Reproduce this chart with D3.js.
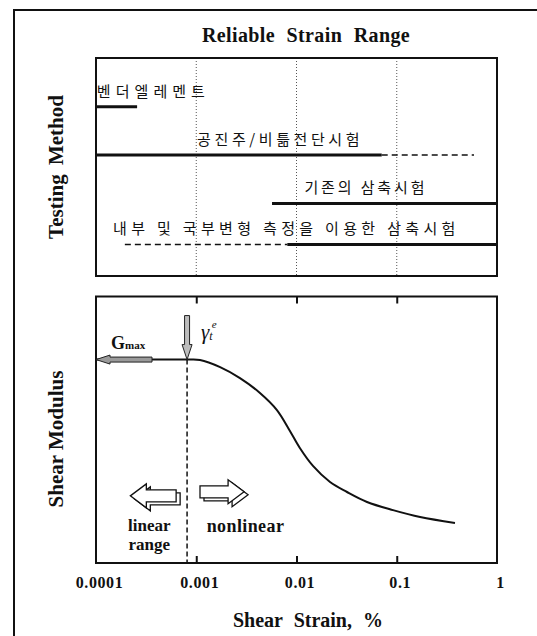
<!DOCTYPE html>
<html>
<head>
<meta charset="utf-8">
<script src="https://cdn.jsdelivr.net/npm/d3@7"></script>
<style>
  body { margin: 0; background: #fff; }
  svg text { fill: #111; }
  .kor { font-family: "Noto Sans CJK KR", sans-serif; font-weight: 400; font-size: 15px; }
</style>
</head>
<body>
<div id="chart"></div>
<script>
// tick labels of the strain axis
const tickValues = [0.0001, 0.001, 0.01, 0.1, 1];
const tickLabels = ["0.0001", "0.001", "0.01", "0.1", "1"];
const gridValues = [0.001, 0.01, 0.1];

// testing methods and their reliable strain ranges (%)
const methods = ["벤더엘레멘트", "공진주/비틂전단시험", "기존의 삼축시험", "내부 및 국부변형 측정을 이용한 삼축시험"];
const rowLevel = [2.24, 4.45, 6.67, 8.55];
const solidFrom = [0.0001, 0.0001, 0.0057, 0.0081];
const solidTo = [0.000257, 0.0708, 1, 1];
const dashFrom = [null, 0.0708, null, 0.000194];
const dashTo = [null, 0.59, null, 0.0081];
const labelFrom = [0.000102, 0.00102, 0.012, 0.000148];
const labelTo = [0.00122, 0.0425, 0.189, 0.384];

// shear modulus degradation curve (G / Gmax)
const strain = [0.0001, 0.0004, 0.00081, 0.00109, 0.00173, 0.00273, 0.00432, 0.00638, 0.0086, 0.0108, 0.0146, 0.0216, 0.0319, 0.0505, 0.0918, 0.171, 0.381];
const modulus = [1, 1, 1, 0.998, 0.963, 0.909, 0.836, 0.752, 0.649, 0.565, 0.477, 0.398, 0.349, 0.300, 0.260, 0.226, 0.197];
const gammaT = 0.00081;

const width = 537, height = 636;
const serif = "'Liberation Serif', 'Times New Roman', Times, serif";

const svg = d3.select("#chart")
  .append("svg")
  .attr("width", width)
  .attr("height", height);

// bold serif text helper
function label(xp, yp, txt, size) {
  return svg.append("text")
    .attr("x", xp).attr("y", yp)
    .style("font-family", serif)
    .style("font-weight", "bold")
    .style("font-size", size + "px")
    .text(txt);
}

// outer frame (only left and top edges visible)
svg.append("path")
  .attr("d", "M14,636 L14,10 L537,10")
  .attr("fill", "none")
  .attr("stroke", "#111")
  .attr("stroke-width", 2);

const x = d3.scaleLog().domain([0.0001, 1]).range([96, 497]);
const yTop = d3.scaleLinear().domain([0, 10]).range([58, 276]);
const yBot = d3.scaleLinear().domain([0, 1.31]).range([563, 296.5]);

// ---------- top panel ----------
label(306, 42, "Reliable Strain Range", 20)
  .attr("text-anchor", "middle")
  .style("letter-spacing", "0.4px")
  .style("word-spacing", "6px");

svg.selectAll(".grid")
  .data(gridValues)
  .join("line")
  .attr("class", "grid")
  .attr("x1", d => x(d)).attr("x2", d => x(d))
  .attr("y1", yTop(0)).attr("y2", yTop(10))
  .attr("stroke", "#555")
  .attr("stroke-width", 1)
  .attr("stroke-dasharray", "1,2");

const rows = methods.map((m, i) => ({ name: m, level: rowLevel[i], s0: solidFrom[i], s1: solidTo[i], d0: dashFrom[i], d1: dashTo[i], l0: labelFrom[i], l1: labelTo[i] }));

svg.selectAll(".solid")
  .data(rows)
  .join("line")
  .attr("class", "solid")
  .attr("x1", d => x(d.s0)).attr("x2", d => x(d.s1))
  .attr("y1", d => yTop(d.level)).attr("y2", d => yTop(d.level))
  .attr("stroke", "#111")
  .attr("stroke-width", 3);

svg.selectAll(".dash")
  .data(rows.filter(d => d.d0 !== null))
  .join("line")
  .attr("class", "dash")
  .attr("x1", d => x(d.d0)).attr("x2", d => x(d.d1))
  .attr("y1", d => yTop(d.level)).attr("y2", d => yTop(d.level))
  .attr("stroke", "#111")
  .attr("stroke-width", 1.5)
  .attr("stroke-dasharray", "6,4");

svg.selectAll(".rowlabel")
  .data(rows)
  .join("text")
  .attr("class", "kor rowlabel")
  .attr("x", d => x(d.l0))
  .attr("y", d => yTop(d.level) - 10)
  .attr("textLength", d => x(d.l1) - x(d.l0))
  .attr("lengthAdjust", "spacing")
  .text(d => d.name);

svg.append("rect")
  .attr("x", x(0.0001)).attr("y", yTop(0))
  .attr("width", x(1) - x(0.0001)).attr("height", yTop(10) - yTop(0))
  .attr("fill", "none")
  .attr("stroke", "#111")
  .attr("stroke-width", 2);

label(0, 0, "Testing Method", 21)
  .attr("transform", `translate(63,${yTop(5)}) rotate(-90)`)
  .attr("text-anchor", "middle")
  .style("word-spacing", "4px");

// ---------- bottom panel ----------
svg.append("rect")
  .attr("x", x(0.0001)).attr("y", yBot(1.31))
  .attr("width", x(1) - x(0.0001)).attr("height", yBot(0) - yBot(1.31))
  .attr("fill", "none")
  .attr("stroke", "#111")
  .attr("stroke-width", 2);

// inward ticks
svg.append("g")
  .attr("transform", `translate(0,${yBot(0)})`)
  .call(d3.axisTop(x).tickValues(gridValues).tickSize(7).tickFormat(""))
  .call(g => g.select(".domain").remove())
  .call(g => g.selectAll("line").attr("stroke", "#111").attr("stroke-width", 2));
svg.append("g")
  .attr("transform", `translate(0,${yBot(1.31)})`)
  .call(d3.axisBottom(x).tickValues(gridValues).tickSize(7).tickFormat(""))
  .call(g => g.select(".domain").remove())
  .call(g => g.selectAll("line").attr("stroke", "#111").attr("stroke-width", 2));

// tick labels
svg.append("g")
  .attr("transform", `translate(3,${yBot(0)})`)
  .call(d3.axisBottom(x).tickValues(tickValues).tickSize(0).tickPadding(14).tickFormat((d, i) => tickLabels[i]))
  .call(g => g.select(".domain").remove())
  .call(g => g.selectAll("text")
    .style("font-family", serif)
    .style("font-weight", "bold")
    .style("font-size", "16px")
    .style("letter-spacing", "0.6px")
    .attr("fill", "#111"));

label(308, 627, "Shear Strain, %", 20)
  .attr("text-anchor", "middle")
  .style("word-spacing", "6px");

label(0, 0, "Shear Modulus", 21)
  .attr("transform", `translate(63,439) rotate(-90)`)
  .attr("text-anchor", "middle");

// threshold dashed line
svg.append("line")
  .attr("x1", x(gammaT)).attr("x2", x(gammaT))
  .attr("y1", yBot(1)).attr("y2", yBot(0))
  .attr("stroke", "#111")
  .attr("stroke-width", 1.5)
  .attr("stroke-dasharray", "5,3");

// degradation curve
const line = d3.line()
  .x((d, i) => x(strain[i]))
  .y(d => yBot(d))
  .curve(d3.curveCatmullRom.alpha(0.5));

svg.append("path")
  .datum(modulus)
  .attr("d", line)
  .attr("fill", "none")
  .attr("stroke", "#111")
  .attr("stroke-width", 2);

// Gmax arrow (pointing left)
const gx = x(0.0001), gy = yBot(1);
svg.append("path")
  .attr("d", `M${gx},${gy} L${gx + 14},${gy - 4.5} L${gx + 14},${gy - 2.5} L${gx + 56},${gy - 2.5} L${gx + 56},${gy + 2.5} L${gx + 14},${gy + 2.5} L${gx + 14},${gy + 4.5} Z`)
  .attr("fill", "#9a9a9a")
  .attr("stroke", "#222")
  .attr("stroke-width", 1);

const gt = label(gx + 15, gy - 11, "", 18);
gt.append("tspan").text("G");
gt.append("tspan").style("font-size", "11px").text("max");

// threshold arrow (pointing down)
const tx = x(gammaT), ty = yBot(1);
svg.append("path")
  .attr("d", `M${tx},${ty} L${tx - 5},${ty - 15} L${tx - 2.5},${ty - 15} L${tx - 2.5},${ty - 44} L${tx + 2.5},${ty - 44} L${tx + 2.5},${ty - 15} L${tx + 5},${ty - 15} Z`)
  .attr("fill", "#bdbdbd")
  .attr("stroke", "#222")
  .attr("stroke-width", 1);

const gam = svg.append("text")
  .attr("x", tx + 14).attr("y", ty - 21)
  .style("font-family", serif)
  .style("font-style", "italic")
  .style("font-size", "21px");
gam.append("tspan").text("γ");
gam.append("tspan").style("font-size", "12px").attr("dy", 1).text("t");
gam.append("tspan").style("font-size", "11px").attr("dy", -12).attr("dx", -1).text("e");

// block arrows
function blockArrow(tail, tip, cy) {
  const dir = tip > tail ? 1 : -1;
  const headStart = tip - dir * 16;
  const pts = [[tip, cy], [headStart, cy - 12], [headStart, cy - 6], [tail, cy - 6], [tail, cy + 6], [headStart, cy + 6], [headStart, cy + 12]];
  const g = svg.append("g");
  g.append("polygon")
    .attr("points", pts.map(p => [p[0] + 4, p[1] + 3].join(",")).join(" "))
    .attr("fill", "#fff").attr("stroke", "#111").attr("stroke-width", 1.3);
  g.append("polygon")
    .attr("points", pts.map(p => p.join(",")).join(" "))
    .attr("fill", "#fff").attr("stroke", "#111").attr("stroke-width", 1.3);
}
blockArrow(x(0.00063), x(0.00022), yBot(0.33));
blockArrow(x(0.00109), x(0.0030), yBot(0.35));

label(x(0.00034), 531, "linear", 17).attr("text-anchor", "middle");
label(x(0.00034), 550, "range", 17).attr("text-anchor", "middle");
label(x(0.00127), 532, "nonlinear", 18).style("letter-spacing", "0.4px");
</script>
</body>
</html>
